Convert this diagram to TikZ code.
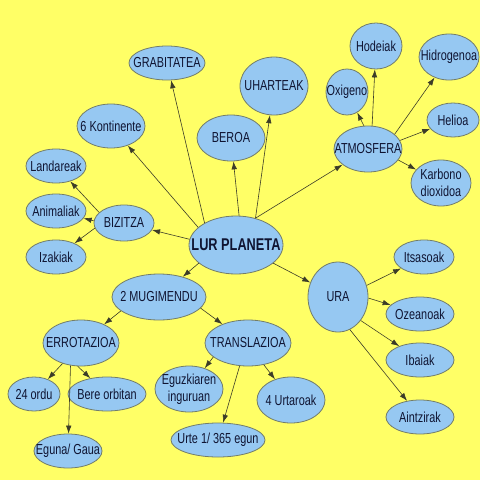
\documentclass[tikz,border=0pt]{standalone}
\usepackage{fontspec}
\setmainfont{Liberation Sans}[FakeStretch=0.75]
\usetikzlibrary{shapes.geometric,arrows.meta}
\definecolor{bgyellow}{RGB}{255,255,102}
\definecolor{bubfill}{RGB}{150,200,242}
\definecolor{bubline}{RGB}{115,125,105}
\definecolor{txt}{RGB}{15,20,50}
\definecolor{linec}{RGB}{60,60,40}
\tikzset{
  bub/.style={ellipse, draw=bubline, line width=0.8pt, fill=bubfill, inner sep=0pt,
    label={[txt, font=\fontsize{14.5}{16.5}\selectfont, align=center]center:#1}},
  bigbub/.style={ellipse, draw=bubline, line width=0.8pt, fill=bubfill, inner sep=0pt,
    label={[txt, font=\fontsize{17}{19}\selectfont\bfseries, align=center]center:#1}},
  sz/.style 2 args={minimum width=#1pt, minimum height=#2pt},
  arr/.style={draw=linec, line width=0.6pt, -{Latex[length=8pt,width=5.5pt]}}
}
\begin{document}
\begin{tikzpicture}[x=1pt,y=-1pt]
\fill[bgyellow] (0,0) rectangle (480,480);
\useasboundingbox (0,0) rectangle (480,480);
% nodes
\node[bub=GRABITATEA, sz={76}{34}] (grab) at (167,63) {};
\node[bub=6 Kontinente, sz={68}{44}] (kont) at (111,126) {};
\node[bub=Landareak, sz={60}{34}] (land) at (56,166) {};
\node[bub=Animaliak, sz={60}{34}] (anim) at (56,211) {};
\node[bub=BIZITZA, sz={60}{36}] (biz) at (124,223) {};
\node[bub=Izakiak, sz={60}{34}] (izak) at (56,257) {};
\node[bub=BEROA, sz={68}{46}] (beroa) at (231,138) {};
\node[bub=UHARTEAK, sz={68}{58}] (uhar) at (274,86) {};
\node[bub=Oxigeno, sz={42}{46}] (oxi) at (347,92) {};
\node[bub=Hodeiak, sz={52}{46}] (hode) at (376,46) {};
\node[bub=Hidrogenoa, sz={60}{46}] (hidro) at (449,57) {};
\node[bub=Helioa, sz={52}{34}] (helio) at (453,120) {};
\node[bub=ATMOSFERA, sz={68}{46}] (atmos) at (368,149) {};
\node[bub={Karbono\\dioxidoa}, sz={60}{46}] (karb) at (441,183) {};
\node[bigbub=LUR PLANETA, sz={94}{58}] (lur) at (236,245) {};
\node[bub=2 MUGIMENDU, sz={94}{46}] (mug) at (159,297) {};
\node[bub=ERROTAZIOA, sz={76}{46}] (erro) at (81,343) {};
\node[bub=24 ordu, sz={52}{34}] (ordu) at (34,394) {};
\node[bub=Bere orbitan, sz={78}{34}] (bere) at (107,394) {};
\node[bub=Eguna/ Gaua, sz={68}{34}] (egun) at (68,451) {};
\node[bub={Eguzkiaren\\inguruan}, sz={68}{46}] (eguz) at (189,389) {};
\node[bub=TRANSLAZIOA, sz={86}{46}] (trans) at (248,343) {};
\node[bub=Urte 1/ 365 egun, sz={94}{34}] (urte) at (218,440) {};
\node[bub=4 Urtaroak, sz={68}{46}] (urtar) at (291,400) {};
\node[bub=URA, sz={60}{70}] (ura) at (338,297) {};
\node[bub=Itsasoak, sz={60}{34}] (itsas) at (424,257) {};
\node[bub=Ozeanoak, sz={68}{34}] (ozea) at (420,314) {};
\node[bub=Ibaiak, sz={68}{34}] (ibai) at (420,360) {};
\node[bub=Aintzirak, sz={68}{34}] (aintz) at (420,417) {};
% connectors
\draw[arr] (lur.145) -- (grab);
\draw[arr] (lur.155) -- (kont);
\draw[arr] (lur.173) -- (biz);
\draw[arr] (lur.84) -- (beroa);
\draw[arr] (lur.54) -- (uhar);
\draw[arr] (lur.54) -- (atmos);
\draw[arr] (lur.206) -- (mug);
\draw[arr] (lur.334) -- (ura);
\draw[arr] (biz.157) -- (land);
\draw[arr] (biz.176) -- (anim);
\draw[arr] (biz.190) -- (izak);
\draw[arr] (atmos.100) -- (oxi);
\draw[arr] (atmos.80) -- (hode);
\draw[arr] (atmos.29) -- (hidro);
\draw[arr] (atmos.15) -- (helio);
\draw[arr] (atmos.340) -- (karb);
\draw[arr] (ura.22) -- (itsas);
\draw[arr] (ura.358) -- (ozea);
\draw[arr] (ura.314) -- (ibai);
\draw[arr] (ura.290) -- (aintz);
\draw[arr] (mug.200) -- (erro);
\draw[arr] (mug.345) -- (trans);
\draw[arr] (erro.228) -- (ordu);
\draw[arr] (erro.262) -- (bere);
\draw[arr] (erro.245) -- (egun);
\draw[arr] (trans.202) -- (eguz);
\draw[arr] (trans.250) -- (urte);
\draw[arr] (trans.306) -- (urtar);
\end{tikzpicture}
\end{document}
